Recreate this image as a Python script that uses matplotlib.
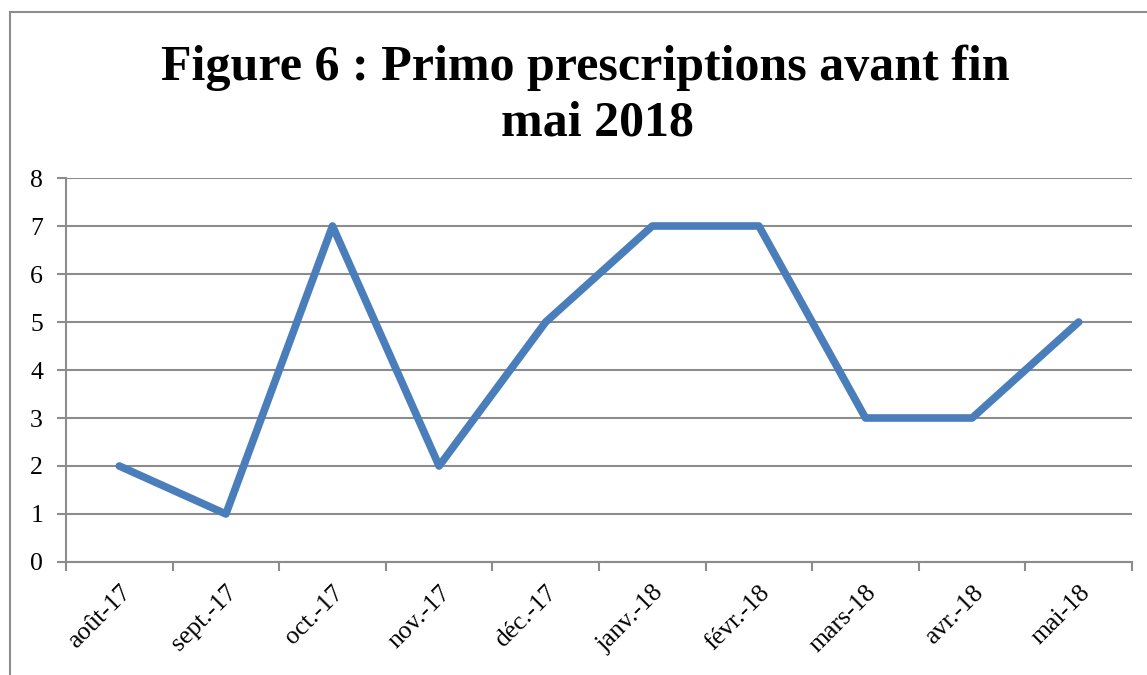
import matplotlib
matplotlib.use("Agg")
import matplotlib.pyplot as plt
from matplotlib.patches import Rectangle

categories = ["août-17", "sept.-17", "oct.-17", "nov.-17", "déc.-17",
              "janv.-18", "févr.-18", "mars-18", "avr.-18", "mai-18"]
values = [2, 1, 7, 2, 5, 7, 7, 3, 3, 5]
yticks = [0, 1, 2, 3, 4, 5, 6, 7, 8]
title_lines = ["Figure 6 : Primo prescriptions avant fin", "mai 2018"]

plt.rcParams['font.family'] = ['Liberation Serif', 'DejaVu Serif']

W, H = 1147, 675
fig = plt.figure(figsize=(W / 100, H / 100), dpi=100)
fig.patches.append(Rectangle((10 / W, -0.1), 1.2, 1.1 - 12 / H,
                             transform=fig.transFigure, fill=False,
                             edgecolor='#8c8c8c', linewidth=1.5))
ax = fig.add_axes([66 / W, (H - 562) / H, (1132 - 66) / W, (562 - 178) / H])

x = list(range(len(categories)))
ax.plot(x, values, color='#4a7ebb', linewidth=5.5, solid_joinstyle='round',
        solid_capstyle='round', zorder=3)

ax.set_xlim(-0.5, len(categories) - 0.5)
ax.set_ylim(0, 8)
ax.set_yticks(yticks)
ax.set_yticklabels([str(v) for v in yticks], fontsize=18.5)
ax.yaxis.grid(True, color='#8c8c8c', linewidth=1.5)
ax.set_axisbelow(True)

ax.set_xticks([i - 0.5 for i in range(len(categories) + 1)])
ax.set_xticklabels([])
ax.set_xticks(x, minor=True)
ax.set_xticklabels(categories, minor=True, rotation=45, ha='right',
                   va='top', rotation_mode='anchor', fontsize=18.5)
ax.tick_params(axis='x', which='minor', length=0, pad=14)
ax.tick_params(axis='x', which='major', length=6.5, width=1.5, color='#8c8c8c')
ax.tick_params(axis='y', length=6.5, width=1.5, color='#8c8c8c', pad=10)

for s in ['top', 'right']:
    ax.spines[s].set_visible(False)
for s in ['left', 'bottom']:
    ax.spines[s].set_color('#8c8c8c')
    ax.spines[s].set_linewidth(1.5)

fig.text(585 / W, 1 - 80 / H, title_lines[0], ha='center', va='baseline',
         fontsize=36, fontweight='bold')
fig.text(597 / W, 1 - 135 / H, title_lines[1], ha='center', va='baseline',
         fontsize=36, fontweight='bold')

fig.savefig("out.png", dpi=100)
